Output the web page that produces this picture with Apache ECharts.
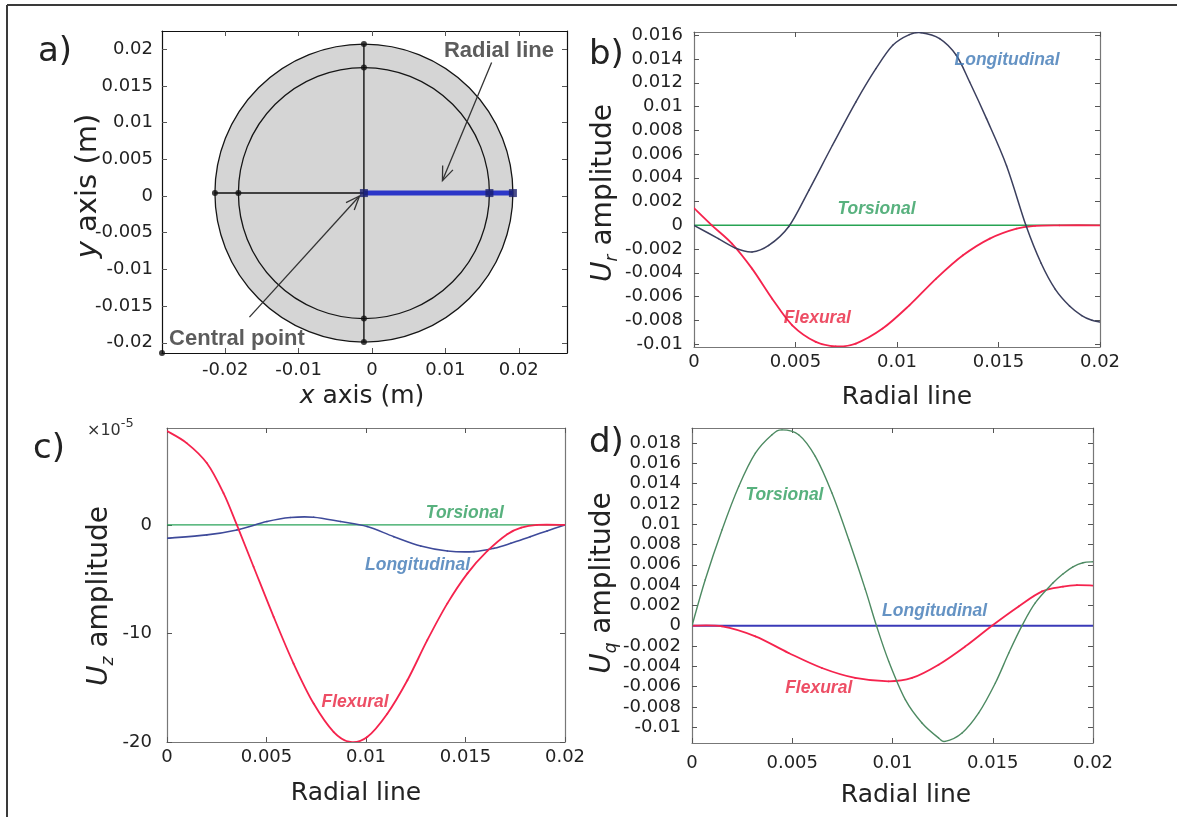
<!DOCTYPE html>
<html><head><meta charset="utf-8">
<script src="https://cdn.jsdelivr.net/npm/echarts@6/dist/echarts.min.js"></script>
<style>html,body{margin:0;padding:0;background:#fff}#c{width:1177px;height:817px}</style>
</head><body><div id="c"></div>
<script>
// ---------------- DATA ----------------
// Panel a: cross-section geometry (metres)
const circleCenter = [-0.0011, 0.0004];
const outerRadius = 0.0203;
const innerRadius = 0.0171;
const aXTicks = [-0.02, -0.01, 0, 0.01, 0.02];
const aYTicks = [-0.02, -0.015, -0.01, -0.005, 0, 0.005, 0.01, 0.015, 0.02];
const radialArrow = [0.0163, 0.0182, 0.0096, 0.0021];      // x1,y1 -> x2,y2
const centralArrow = [-0.0167, -0.0165, -0.0017, 0.0000];
const aNotes = [
  { text: 'Radial line', x: 0.0173, y: 0.0197 },
  { text: 'Central point', x: -0.0184, y: -0.0195 }
];

// Shared x ticks (radial line)
const radialTicks = [0, 0.005, 0.01, 0.015, 0.02];

// Panel b: U_r amplitude
const bYTicks = [-0.01, -0.008, -0.006, -0.004, -0.002, 0, 0.002, 0.004, 0.006, 0.008, 0.01, 0.012, 0.014, 0.016];
const bLongitudinal = [[0,0],[0.0012,-0.00112],[0.00203,-0.00191],[0.00286,-0.00224],[0.00368,-0.0017],[0.00467,-0.0001],[0.00566,0.00295],[0.00682,0.00674],[0.00797,0.01038],[0.00896,0.01319],[0.00979,0.01516],[0.01061,0.01606],[0.01119,0.01622],[0.0121,0.01572],[0.01292,0.01432],[0.01358,0.01207],[0.01441,0.00898],[0.0154,0.005],[0.01635,0],[0.0171,-0.0032],[0.0178,-0.0054],[0.0185,-0.0068],[0.0191,-0.0076],[0.0196,-0.008],[0.02,-0.00815]];
const bFlexural = [[0,0.00145],[0.00088,0],[0.00187,-0.00154],[0.00286,-0.00365],[0.00385,-0.00618],[0.00484,-0.00842],[0.006,-0.00982],[0.00698,-0.0102],[0.00797,-0.00996],[0.00929,-0.0087],[0.01061,-0.00674],[0.01193,-0.00449],[0.01325,-0.00253],[0.01457,-0.00112],[0.01589,-0.00028],[0.0168,-0.00005],[0.018,0],[0.02,0]];
const bTorsional = [[0,0],[0.02,0]];
const bNotes = [
  { text: 'Longitudinal', x: 0.01542, y: 0.0139, kind: 'long' },
  { text: 'Torsional', x: 0.00899, y: 0.0014, kind: 'tors' },
  { text: 'Flexural', x: 0.00608, y: -0.00786, kind: 'flex' }
];

// Panel c: U_z amplitude (units of 1e-5)
const cYTicks = [-20, -10, 0];
const cFlexural = [[0,8.65],[0.00099,7.54],[0.002,5.7],[0.00284,2.93],[0.00351,0],[0.00435,-3.85],[0.00536,-8.47],[0.00636,-12.77],[0.00737,-16.46],[0.00838,-19.08],[0.00922,-20.0],[0.01006,-19.54],[0.01107,-17.39],[0.01208,-14.31],[0.01308,-10.62],[0.01409,-7.23],[0.0151,-4.46],[0.0161,-2.4],[0.0171,-0.85],[0.0178,-0.25],[0.0186,0],[0.02,0]];
const cLongitudinal = [[0,-1.23],[0.002,-0.92],[0.00351,-0.46],[0.00502,0.31],[0.0062,0.68],[0.00737,0.71],[0.00872,0.31],[0.01006,-0.15],[0.0114,-1.08],[0.01275,-1.94],[0.01409,-2.4],[0.01543,-2.46],[0.01644,-2.15],[0.01728,-1.69],[0.01825,-1.08],[0.0191,-0.55],[0.02,0]];
const cTorsional = [[0,0],[0.02,0]];
const cNotes = [
  { text: 'Torsional', x: 0.01497, y: 1.08, kind: 'tors' },
  { text: 'Longitudinal', x: 0.01259, y: -3.69, kind: 'long' },
  { text: 'Flexural', x: 0.00945, y: -16.3, kind: 'flex' }
];

// Panel d: U_q amplitude
const dYTicks = [-0.01, -0.008, -0.006, -0.004, -0.002, 0, 0.002, 0.004, 0.006, 0.008, 0.01, 0.012, 0.014, 0.016, 0.018];
const dTorsional = [[0,0],[0.00066,0.00453],[0.0015,0.00946],[0.00233,0.01372],[0.00316,0.017],[0.00399,0.01882],[0.00449,0.0193],[0.00532,0.01882],[0.00615,0.01668],[0.00698,0.01307],[0.00782,0.00847],[0.00864,0.0036],[0.0092,0],[0.00981,-0.0035],[0.01064,-0.00729],[0.01147,-0.00959],[0.0123,-0.01106],[0.01263,-0.0114],[0.01347,-0.01057],[0.0143,-0.0086],[0.01513,-0.00565],[0.0158,-0.00269],[0.01646,0],[0.01712,0.00224],[0.018,0.0042],[0.0185,0.0051],[0.019,0.0058],[0.0195,0.0062],[0.02,0.0063]];
const dFlexural = [[0,0],[0.0015,-0.00007],[0.00316,-0.00105],[0.00482,-0.00269],[0.00648,-0.00417],[0.00814,-0.00515],[0.00981,-0.00548],[0.01097,-0.00515],[0.0123,-0.00384],[0.01363,-0.00204],[0.01496,0],[0.01629,0.0019],[0.01746,0.00338],[0.0185,0.00385],[0.0192,0.004],[0.02,0.00395]];
const dLongitudinal = [[0,0],[0.02,0]];
const dNotes = [
  { text: 'Torsional', x: 0.00461, y: 0.0129, kind: 'tors' },
  { text: 'Longitudinal', x: 0.0121, y: 0.00141, kind: 'long' },
  { text: 'Flexural', x: 0.00632, y: -0.00614, kind: 'flex' }
];

// ---------------- STYLE / LAYOUT ----------------
const noteColor = { long: '#3f78b5', tors: '#2e9e5e', flex: '#e8223f' };
const RED = '#f5234d';
const tickFont = { fontFamily: 'DejaVu Sans', fontSize: 18, color: '#222' };
const titleFont = 'DejaVu Sans';

const grids = [
  { left: 162, top: 31, width: 405, height: 322 },
  { left: 694, top: 32, width: 406, height: 315 },
  { left: 167, top: 428, width: 398, height: 314 },
  { left: 692, top: 428, width: 401, height: 315 }
];
const ranges = [
  { x: [-0.02861, 0.02657], y: [-0.02139, 0.02248], xt: aXTicks, yt: aYTicks, line: '#111', xm: 8, ym: 9 },
  { x: [0, 0.02], y: [-0.01025, 0.01628], xt: radialTicks, yt: bYTicks, line: '#777', xm: 6, ym: 11 },
  { x: [0, 0.02], y: [-20, 8.93], xt: radialTicks, yt: cYTicks, line: '#777', xm: 6, ym: 15 },
  { x: [0, 0.02], y: [-0.01156, 0.01948], xt: radialTicks, yt: dYTicks, line: '#777', xm: 11, ym: 11 }
];

const xAxes = [], yAxes = [];
ranges.forEach((r, g) => {
  const tick = (vals) => ({ show: true, inside: true, length: 5, customValues: vals, lineStyle: { color: '#555', width: 1 } });
  const line = { show: true, onZero: false, lineStyle: { color: r.line, width: 1.2 } };
  xAxes.push({ type: 'value', gridIndex: g, min: r.x[0], max: r.x[1], position: 'bottom',
    axisLine: line, axisTick: tick(r.xt), splitLine: { show: false },
    axisLabel: Object.assign({ show: true, customValues: r.xt, margin: r.xm, formatter: v => String(v) }, tickFont) });
  xAxes.push({ type: 'value', gridIndex: g, min: r.x[0], max: r.x[1], position: 'top',
    axisLine: line, axisTick: tick(r.xt), axisLabel: { show: false }, splitLine: { show: false } });
  yAxes.push({ type: 'value', gridIndex: g, min: r.y[0], max: r.y[1], position: 'left',
    axisLine: line, axisTick: tick(r.yt), splitLine: { show: false },
    axisLabel: Object.assign({ show: true, customValues: r.yt, margin: r.ym, formatter: v => String(v) }, tickFont) });
  yAxes.push({ type: 'value', gridIndex: g, min: r.y[0], max: r.y[1], position: 'right',
    axisLine: line, axisTick: tick(r.yt), axisLabel: { show: false }, splitLine: { show: false } });
});

// Smooth curve through the data points, positioned by the axes (api.coord)
function curve(g, data, color, width, z) {
  return { type: 'custom', xAxisIndex: 2 * g, yAxisIndex: 2 * g, silent: true, z: z || 3, clip: true,
    data: data, encode: { x: 0, y: 1 },
    renderItem: (params, api) => {
      if (params.dataIndex !== 0) return null;
      const P = data.map(d => api.coord(d));
      const children = [];
      for (let i = 0; i < P.length - 1; i++) {
        const p0 = P[i - 1] || P[i], p1 = P[i], p2 = P[i + 1], p3 = P[i + 2] || P[i + 1];
        children.push({ type: 'bezierCurve', shape: {
            x1: p1[0], y1: p1[1], x2: p2[0], y2: p2[1],
            cpx1: p1[0] + (p2[0] - p0[0]) / 6, cpy1: p1[1] + (p2[1] - p0[1]) / 6,
            cpx2: p2[0] - (p3[0] - p1[0]) / 6, cpy2: p2[1] - (p3[1] - p1[1]) / 6 },
          style: { stroke: color, lineWidth: width, fill: null, lineCap: 'round' } });
      }
      return { type: 'group', children: children };
    } };
}
function notes(g, items) {
  return { type: 'scatter', xAxisIndex: 2 * g, yAxisIndex: 2 * g, symbolSize: 0, silent: true, z: 10,
    data: items.map(t => ({ value: [t.x, t.y], name: t.text, label: { color: noteColor[t.kind] } })),
    label: { show: true, position: 'inside', formatter: p => p.name, fontFamily: 'Liberation Sans',
      fontStyle: 'italic', fontWeight: 'bold', fontSize: 17.5 } };
}

// Panel a geometry derived from the data above
const cx = circleCenter[0], cy = circleCenter[1];
const crossLines = [[cx, cy + outerRadius], [cx, cy - outerRadius], null, [cx - outerRadius, cy], [cx, cy]];
const blackDots = [[cx, cy + outerRadius], [cx, cy + innerRadius], [cx, cy - innerRadius], [cx, cy - outerRadius],
  [cx - outerRadius, cy], [cx - innerRadius, cy], [ranges[0].x[0], ranges[0].y[0]]];
const blueDots = [[cx, cy], [cx + innerRadius, cy], [cx + outerRadius, cy]];

const series = [
  { type: 'custom', xAxisIndex: 0, yAxisIndex: 0, silent: true, z: 1,
    data: [[cx, cy, outerRadius], [cx, cy, innerRadius]],
    renderItem: (params, api) => {
      const c = api.coord([api.value(0), api.value(1)]);
      const r = api.size([api.value(2), 0])[0];
      return { type: 'circle', shape: { cx: c[0], cy: c[1], r: r },
        style: { fill: '#d5d5d5', stroke: '#151515', lineWidth: 1.3 } };
    } },
  { type: 'line', xAxisIndex: 0, yAxisIndex: 0, data: crossLines, symbol: 'none', silent: true, z: 2,
    connectNulls: false, lineStyle: { color: '#111', width: 1.4 } },
  { type: 'line', xAxisIndex: 0, yAxisIndex: 0, data: [[cx, cy], [cx + outerRadius, cy]], symbol: 'none', silent: true, z: 3,
    lineStyle: { color: '#2b36c8', width: 5 } },
  { type: 'scatter', xAxisIndex: 0, yAxisIndex: 0, data: blackDots, symbol: 'circle', symbolSize: 6, silent: true, z: 4,
    itemStyle: { color: '#111' } },
  { type: 'scatter', xAxisIndex: 0, yAxisIndex: 0, data: blueDots, symbol: 'rect', symbolSize: 8, silent: true, z: 4,
    itemStyle: { color: '#1a1f6e' } },
  { type: 'custom', xAxisIndex: 0, yAxisIndex: 0, silent: true, z: 5,
    data: [radialArrow, centralArrow],
    renderItem: (params, api) => {
      const p1 = api.coord([api.value(0), api.value(1)]);
      const p2 = api.coord([api.value(2), api.value(3)]);
      const ang = Math.atan2(p2[1] - p1[1], p2[0] - p1[0]);
      const L = 15, a = 0.38;
      const h1 = [p2[0] - L * Math.cos(ang - a), p2[1] - L * Math.sin(ang - a)];
      const h2 = [p2[0] - L * Math.cos(ang + a), p2[1] - L * Math.sin(ang + a)];
      return { type: 'group', children: [
        { type: 'line', shape: { x1: p1[0], y1: p1[1], x2: p2[0], y2: p2[1] }, style: { stroke: '#333', lineWidth: 1.3 } },
        { type: 'polyline', shape: { points: [h1, p2, h2] }, style: { stroke: '#333', fill: null, lineWidth: 1.3 } }
      ] };
    } },
  { type: 'scatter', xAxisIndex: 0, yAxisIndex: 0, symbolSize: 0, silent: true, z: 10,
    data: aNotes.map(t => ({ value: [t.x, t.y], name: t.text })),
    label: { show: true, position: 'inside', formatter: p => p.name, fontFamily: 'Liberation Sans',
      fontWeight: 'bold', fontSize: 22, color: '#333' } },

  curve(1, bTorsional, '#27a353', 1.4),
  curve(1, bFlexural, RED, 1.8, 4),
  curve(1, bLongitudinal, '#3b3f5e', 1.5, 5),
  notes(1, bNotes),

  curve(2, cTorsional, '#2aa35a', 1.4),
  curve(2, cLongitudinal, '#3e4a9a', 1.6, 4),
  curve(2, cFlexural, RED, 1.8, 5),
  notes(2, cNotes),

  curve(3, dLongitudinal, '#3a3ab8', 2),
  curve(3, dFlexural, RED, 1.8, 4),
  curve(3, dTorsional, '#4d8a62', 1.4, 5),
  notes(3, dNotes)
];

function title(x, y, text, rot, size, rich) {
  return { type: 'text', x: x, y: y, rotation: rot || 0, silent: true,
    style: { text: text, fontFamily: titleFont, fontSize: size, fill: '#222', align: 'center', verticalAlign: 'middle',
      rich: rich || undefined } };
}
function richU(size) {
  const lh = Math.round(size * 1.25);
  return {
    i: { fontFamily: titleFont, fontStyle: 'italic', fontSize: size, fill: '#222', color: '#222', lineHeight: lh },
    s: { fontFamily: titleFont, fontStyle: 'italic', fontSize: Math.round(size * 0.6), fill: '#222', color: '#222', lineHeight: lh, verticalAlign: 'bottom' },
    n: { fontFamily: titleFont, fontSize: size, fill: '#222', color: '#222', lineHeight: lh }
  };
}
const letter = (x, y, t) => ({ type: 'text', x: x, y: y, silent: true,
  style: { text: t, fontFamily: 'DejaVu Sans', fontSize: 34, fill: '#222', align: 'left', verticalAlign: 'middle' } });

const graphic = [
  { type: 'line', silent: true, shape: { x1: 7, y1: 5, x2: 1177, y2: 5 }, style: { stroke: '#3a3a3a', lineWidth: 2 } },
  { type: 'line', silent: true, shape: { x1: 7, y1: 5, x2: 7, y2: 817 }, style: { stroke: '#3a3a3a', lineWidth: 2 } },
  letter(38, 52, 'a)'), letter(589, 55, 'b)'), letter(33, 449, 'c)'), letter(589, 443, 'd)'),
  title(362, 396, '{i|x}{n| axis (m)}', 0, 25, richU(25)),
  title(88, 186, '{i|y}{n| axis (m)}', Math.PI / 2, 29, richU(29)),
  title(907, 397, 'Radial line', 0, 25),
  title(356, 793, 'Radial line', 0, 25),
  title(906, 795, 'Radial line', 0, 25),
  title(604, 193, '{i|U}{s|r}{n| amplitude}', Math.PI / 2, 28, richU(28)),
  title(100, 596, '{i|U}{s|z}{n| amplitude}', Math.PI / 2, 28, richU(28)),
  title(603, 583, '{i|U}{s|q}{n| amplitude}', Math.PI / 2, 28, richU(28)),
  { type: 'text', x: 87, y: 428, silent: true,
    style: { text: '{a|×10}{b|-5}', align: 'left', verticalAlign: 'middle',
      rich: { a: { fontFamily: 'DejaVu Sans', fontSize: 16, fill: '#333', color: '#333', lineHeight: 22, verticalAlign: 'bottom' },
              b: { fontFamily: 'DejaVu Sans', fontSize: 13, fill: '#333', color: '#333', lineHeight: 22, verticalAlign: 'top' } } } }
];

const chart = echarts.init(document.getElementById('c'), null, { renderer: 'canvas', width: 1177, height: 817 });
chart.setOption({
  animation: false,
  backgroundColor: '#ffffff',
  grid: grids,
  xAxis: xAxes,
  yAxis: yAxes,
  series: series,
  graphic: graphic
});
</script>
</body></html>
